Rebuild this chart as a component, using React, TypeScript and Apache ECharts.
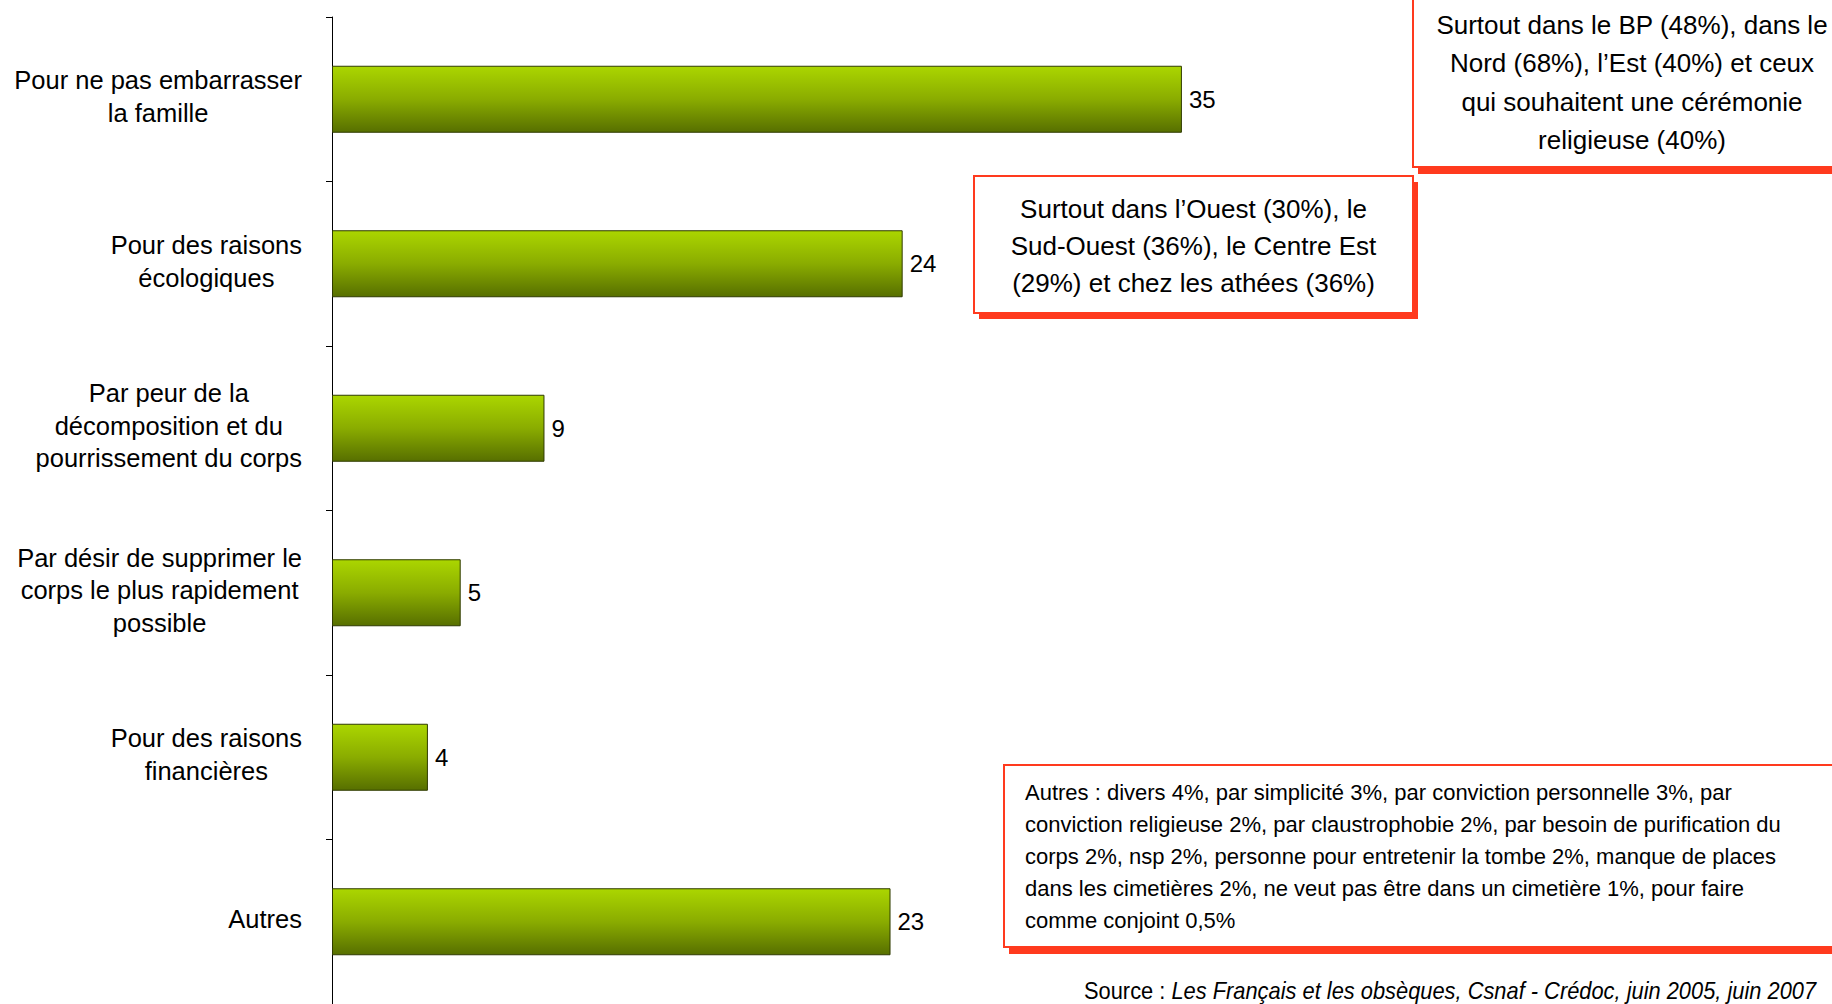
import React, { useEffect, useRef } from "react";
import * as echarts from "echarts";

const categories = [
  "Pour ne pas embarrasser\nla famille",
  "Pour des raisons\nécologiques",
  "Par peur de la\ndécomposition et du\npourrissement du corps",
  "Par désir de supprimer le\ncorps le plus rapidement\npossible",
  "Pour des raisons\nfinancières",
  "Autres",
];
const values = [35, 23.5, 8.75, 5.3, 3.95, 23];
const valueLabels = ["35", "24", "9", "5", "4", "23"];

const noteNordLines = [
  "Surtout dans le BP (48%), dans le",
  "Nord (68%), l’Est (40%) et ceux",
  "qui souhaitent une cérémonie",
  "religieuse (40%)",
];
const noteOuestLines = [
  "Surtout dans l’Ouest (30%), le",
  "Sud-Ouest (36%), le Centre Est",
  "(29%) et chez les athées (36%)",
];
const noteAutresLines = [
  "Autres : divers 4%, par simplicité 3%, par conviction personnelle 3%, par",
  "conviction religieuse 2%, par claustrophobie 2%, par besoin de purification du",
  "corps 2%, nsp 2%, personne pour entretenir la tombe 2%, manque de places",
  "dans les cimetières 2%, ne veut pas être dans un cimetière 1%, pour faire",
  "comme conjoint 0,5%",
];
const sourcePrefix = "Source : ";
const sourceText = "Les Français et les obsèques, Csnaf - Crédoc, juin 2005, juin 2007";

const RED = "#ff3a1e";
const SANS = "'Liberation Sans', Arial, sans-serif";

function box(x: number, y: number, w: number, h: number, dx: number, dy: number) {
  return [
    {
      type: "rect",
      shape: { x: x + dx, y: y + dy, width: w, height: h },
      style: { fill: RED },
      z: 10,
    },
    {
      type: "rect",
      shape: { x, y, width: w, height: h },
      style: { fill: "#ffffff", stroke: RED, lineWidth: 2 },
      z: 11,
    },
  ];
}

export default function App() {
  const ref = useRef<HTMLDivElement>(null);
  useEffect(() => {
    if (!ref.current) return;
    const chart = echarts.init(ref.current, null, { renderer: "svg" });
    const option: any = {
      animation: false,
      backgroundColor: "#ffffff",
      grid: { left: 332, right: 43, top: 17, bottom: 0 },
      xAxis: { type: "value", min: 0, max: 60, show: false },
      yAxis: {
        type: "category",
        inverse: true,
        data: categories,
        axisLine: { show: true, lineStyle: { color: "#000", width: 1 } },
        axisTick: { show: true, length: 6, lineStyle: { color: "#000" } },
        axisLabel: {
          interval: 0,
          margin: 30,
          padding: [0, 0, 5, 0],
          formatter: (v: string) =>
            v
              .split("\n")
              .map((l) => `{c|${l}}`)
              .join("\n"),
          rich: {
            c: {
              align: "center",
              fontSize: 25.5,
              lineHeight: 32.7,
              fontFamily: SANS,
              color: "#000",
            },
          },
        },
        splitLine: { show: false },
      },
      series: [
        {
          type: "bar",
          data: values,
          barWidth: 67,
          itemStyle: {
            color: new echarts.graphic.LinearGradient(0, 0, 0, 1, [
              { offset: 0, color: "#abd600" },
              { offset: 0.5, color: "#8aac00" },
              { offset: 1, color: "#576f00" },
            ]),
            borderColor: "#2f3b00",
            borderWidth: 1,
          },
          label: {
            show: true,
            position: "right",
            distance: 7,
            formatter: (p: any) => valueLabels[p.dataIndex],
            fontFamily: SANS,
            fontSize: 24,
            color: "#000",
          },
        },
      ],
      graphic: {
        elements: [
          ...box(1413, -20, 440, 187, 5, 7),
          {
            type: "text",
            x: 1632,
            y: 82.5,
            z: 12,
            style: {
              text: noteNordLines.join("\n"),
              fontSize: 26,
              fontFamily: SANS,
              lineHeight: 38.3,
              fill: "#000",
              align: "center",
              verticalAlign: "middle",
            },
          },
          ...box(974, 176, 439, 137, 5, 6),
          {
            type: "text",
            x: 1193.5,
            y: 246,
            z: 12,
            style: {
              text: noteOuestLines.join("\n"),
              fontSize: 26,
              fontFamily: SANS,
              lineHeight: 37,
              fill: "#000",
              align: "center",
              verticalAlign: "middle",
            },
          },
          ...box(1004, 765, 840, 182, 5, 7),
          {
            type: "text",
            x: 1025,
            y: 856,
            z: 12,
            style: {
              text: noteAutresLines.join("\n"),
              fontSize: 22,
              fontFamily: SANS,
              lineHeight: 32,
              fill: "#000",
              align: "left",
              verticalAlign: "middle",
            },
          },
          {
            type: "text",
            x: 1084,
            y: 991,
            scaleX: 0.95,
            z: 12,
            style: {
              text: `{n|${sourcePrefix}}{i|${sourceText}}`,
              fontSize: 23,
              fontFamily: SANS,
              fill: "#000",
              align: "left",
              verticalAlign: "middle",
              rich: {
                n: { fontSize: 23, fontFamily: SANS, fill: "#000" },
                i: { fontSize: 23, fontFamily: SANS, fontStyle: "italic", fill: "#000" },
              },
            },
          },
        ],
      },
    };
    chart.setOption(option);
    return () => chart.dispose();
  }, []);
  return (
    <div
      ref={ref}
      style={{ position: "absolute", left: 0, top: 0, width: 1832, height: 1004 }}
    />
  );
}
